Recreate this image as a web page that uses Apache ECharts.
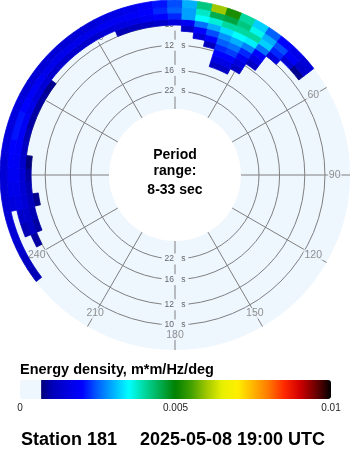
<!DOCTYPE html>
<html><head><meta charset="utf-8">
<script src="https://cdn.jsdelivr.net/npm/echarts@6/dist/echarts.min.js"></script>
<style>html,body{margin:0;padding:0;background:#fff}#c{width:350px;height:450px}</style>
</head><body><div id="c"></div>
<script>
// ---- data ----
const directions = [230,235,240,245,250,255,260,265,270,275,280,285,290,295,300,305,310,315,320,325,330,335,340,345,350,355,0,5,10,15,20,25,30,35,40,45,50,55];
const freqLo = [0.070,0.075,0.080,0.085,0.090,0.095,0.100,0.105,0.110,0.115];
const freqHi = [0.075,0.080,0.085,0.090,0.095,0.100,0.105,0.110,0.115,0.1207];
const energy_f070 = [0,0,0,0,0,0,0,0,0,0,0,0,0,0,0,0,0,0,0,0,0,0,0,0,0,0, 0,0,0,0,0.0012,0.0012,0.0005,0,0,0,0,0];
const energy_f075 = [0,0,0,0,0,0,0,0,0,0,0,0,0,0,0,0,0,0,0,0,0,0,0,0,0,0, 0,0,0,0,0.0016,0.0016,0.0012,0,0,0,0,0];
const energy_f080 = [0,0,0,0,0,0,0,0,0,0,0,0,0,0,0,0,0,0,0,0,0,0,0,0,0,0, 0,0,0,0,0.0020,0.0020,0.0015,0.0005,0,0,0,0];
const energy_f085 = [0,0,0,0,0,0,0,0,0,0,0,0,0,0,0,0,0,0,0,0,0,0,0,0,0,0, 0,0,0,0.0011,0.0022,0.0023,0.0018,0.0012,0,0,0,0];
const energy_f090 = [0,0,0,0,0,0,0.0008,0.0005,0,0,0,0,0,0,0,0,0,0,0,0,0,0,0,0,0,0, 0,0,0.0014,0.0020,0.0025,0.0026,0.0022,0.0016,0,0,0,0];
const energy_f095 = [0,0,0,0.0004,0.0009,0.0010,0.0011,0.0010,0.0009,0.0007,0.0005,0.0004,0,0,0,0,0,0,0,0,0,0,0,0,0,0.0004, 0.0006,0.0012,0.0020,0.0024,0.0028,0.0030,0.0027,0.0020,0.0006,0,0,0];
const energy_f100 = [0,0,0,0.0009,0.0012,0.0013,0.0014,0.0014,0.0014,0.0013,0.0012,0.0010,0.0009,0.0009,0.0009,0.0008,0.0005,0.0005,0.0005,0.0005,0.0005,0.0006,0.0010,0.0011,0.0012,0.0013, 0.0015,0.0018,0.0026,0.0030,0.0033,0.0035,0.0034,0.0026,0.0015,0.0006,0,0];
const energy_f105 = [0,0,0,0.0005,0.0010,0.0013,0.0016,0.0017,0.0018,0.0018,0.0019,0.0019,0.0018,0.0017,0.0015,0.0014,0.0013,0.0013,0.0013,0.0013,0.0013,0.0014,0.0015,0.0016,0.0018,0.0020, 0.0022,0.0029,0.0035,0.0037,0.0040,0.0040,0.0040,0.0032,0.0022,0.0014,0.0008,0];
const energy_f110 = [0,0,0,0,0.0004,0.0005,0.0015,0.0017,0.0018,0.0019,0.0020,0.0021,0.0021,0.0020,0.0019,0.0018,0.0017,0.0017,0.0017,0.0017,0.0017,0.0018,0.0018,0.0019,0.0020,0.0022, 0.0025,0.0029,0.0038,0.0045,0.0046,0.0042,0.0036,0.0030,0.0024,0.0019,0.0013,0.0005];
const energy_f115 = [0.0005,0.0010,0.0012,0.0013,0.0014,0.0014,0.0014,0.0014,0.0014,0.0014,0.0015,0.0015,0.0015,0.0015,0.0014,0.0014,0.0014,0.0014,0.0014,0.0014,0.0014,0.0015,0.0016,0.0017,0.0019,0.0021, 0.0024,0.0030,0.0042,0.0060,0.0052,0.0040,0.0032,0.0025,0.0020,0.0017,0.0014,0.0006];
const energyRows = [energy_f070,energy_f075,energy_f080,energy_f085,energy_f090,energy_f095,energy_f100,energy_f105,energy_f110,energy_f115];

const directionTicks = [0,30,60,90,120,150,180,210,240,270,300,330];   // compass labels
const periodTicks = [10, 12, 16, 22];          // ring labels (s)
const colorbarTicks = [0, 0.005, 0.01];
const visibleThreshold = 0.00068;
const radiusMin = 0.0306, radiusMax = 0.1207;   // Hz (33 s .. ~8 s)
const directionLabelRadius = 0.1080;            // Hz position of compass labels

// ---- build ----
const cells = [];
energyRows.forEach((row, i) => row.forEach((v, j) => cells.push([freqLo[i], directions[j], v, freqHi[i]])));

const palette = ['#000040','#000058','#0000b4','#0000de','#0000ff','#0060ff','#00b0ff','#00ffff','#00d8a0','#00ad50','#008000','#40a000','#a0c800','#e8f000','#ffef00','#ffb400','#ff7800','#ff2800','#d00000','#700000','#000000'];
const BG = '#eef6fe';
const GRID = '#808080';
const FONT = 'Liberation Sans';
const halfBin = 2.5;

function renderCell(params, api) {
  const v = api.value(2);
  if (!(v >= visibleThreshold)) return null;
  const cs = params.coordSys;
  const d = api.value(1), fLo = api.value(0), fHi = api.value(3);
  const pIn = api.coord([fLo, d]), pOut = api.coord([fHi, d]);
  const r0 = Math.hypot(pIn[0] - cs.cx, pIn[1] - cs.cy);
  const r = Math.hypot(pOut[0] - cs.cx, pOut[1] - cs.cy);
  const pa = api.coord([fHi, d - halfBin]), pb = api.coord([fHi, d + halfBin]);
  let a1 = Math.atan2(pa[1] - cs.cy, pa[0] - cs.cx);
  let a2 = Math.atan2(pb[1] - cs.cy, pb[0] - cs.cx);
  if (a2 < a1) a2 += 2 * Math.PI;
  const col = api.visual('color');
  return {type: 'sector', shape: {cx: cs.cx, cy: cs.cy, r0: r0, r: r, startAngle: a1, endAngle: a2, clockwise: true},
          style: {fill: col, stroke: col, lineWidth: 0.8}};
}

const periodLabel = {
  customValues: periodTicks.map(p => 1 / p), margin: 0, align: 'center', verticalAlign: 'middle',
  fontSize: 8.5, fontFamily: FONT, color: '#666', backgroundColor: BG, padding: [1, 3],
  formatter: v => Math.round(1 / v) + '   s'
};

function txt(text, x, y, size, align) {
  return {type: 'text', x: x, y: y, style: {text: text, fontSize: size, fontWeight: 'bold', fontFamily: FONT, fill: '#000',
    textAlign: align, textVerticalAlign: 'middle', align: align, verticalAlign: 'middle'}};
}

const chart = echarts.init(document.getElementById('c'), null, {renderer: 'canvas'});
chart.setOption({
  animation: false,
  backgroundColor: '#fff',
  polar: [
    {center: [175, 175], radius: [66, 175]},
    {center: [175, 175], radius: [66, 175]}
  ],
  angleAxis: [
    {polarIndex: 0, type: 'value', min: 0, max: 360, interval: 30, startAngle: 90, clockwise: true, z: 0,
     axisLine: {show: false}, axisTick: {show: false}, axisLabel: {show: false},
     splitLine: {show: true, lineStyle: {color: GRID, width: 1}},
     splitArea: {show: false}},
    {polarIndex: 1, type: 'value', min: 0, max: 360, interval: 30, startAngle: -90, clockwise: true, z: -1,
     axisLine: {show: false}, axisTick: {show: false}, axisLabel: {show: false}, splitLine: {show: false},
     splitArea: {show: true, areaStyle: {color: [BG]}}}
  ],
  radiusAxis: [
    {polarIndex: 0, type: 'value', min: radiusMin, max: radiusMax, z: 0,
     axisLine: {show: false}, axisTick: {show: false, customValues: periodTicks.map(p => 1 / p)},
     axisLabel: periodLabel,
     splitLine: {show: true, lineStyle: {color: GRID, width: 1}}},
    {polarIndex: 1, type: 'value', min: radiusMin, max: radiusMax, z: 0,
     axisLine: {show: false}, axisTick: {show: false, customValues: periodTicks.map(p => 1 / p)},
     axisLabel: periodLabel, splitLine: {show: false}}
  ],
  grid: {left: 20, top: 380, width: 311, height: 19, show: false},
  xAxis: {type: 'value', min: colorbarTicks[0], max: colorbarTicks[2], interval: colorbarTicks[1],
          axisLine: {show: false}, axisTick: {show: false}, splitLine: {show: false},
          axisLabel: {margin: 4, fontSize: 10, fontFamily: FONT, color: '#222', formatter: v => String(v)}},
  yAxis: {type: 'value', show: false, min: 0, max: 1},
  visualMap: {
    type: 'continuous', min: 0, max: 0.01, range: [visibleThreshold, 0.01], dimension: 2, seriesIndex: 0,
    orient: 'horizontal', left: 20, top: 380, itemWidth: 19, itemHeight: 311, padding: 0,
    calculable: false, text: null, showLabel: false, hoverLink: false,
    inRange: {color: palette}, outOfRange: {color: BG}
  },
  graphic: [
    txt('Period', 175, 155, 14, 'center'),
    txt('range:', 175, 171, 14, 'center'),
    txt('8-33 sec', 175, 190, 14, 'center'),
    txt('Energy density, m*m/Hz/deg', 20, 369.5, 14.5, 'left'),
    txt('Station 181', 21, 440, 18, 'left'),
    txt('2025-05-08 19:00 UTC', 140, 440, 18, 'left')
  ],
  series: [{
    type: 'custom', coordinateSystem: 'polar', polarIndex: 0, z: 2,
    dimensions: ['fLo', 'dir', 'energy', 'fHi'], encode: {radius: 0, angle: 1},
    data: cells, renderItem: renderCell, silent: true
  }, {
    type: 'scatter', coordinateSystem: 'polar', polarIndex: 0, z: 1, silent: true,
    symbolSize: 0, data: directionTicks.map(a => [directionLabelRadius, a]),
    label: {show: true, position: 'inside', formatter: p => String(p.value[1]), fontSize: 10.5, fontFamily: FONT,
            color: '#777', backgroundColor: BG, padding: [0, 1]}
  }]
});
</script></body></html>
